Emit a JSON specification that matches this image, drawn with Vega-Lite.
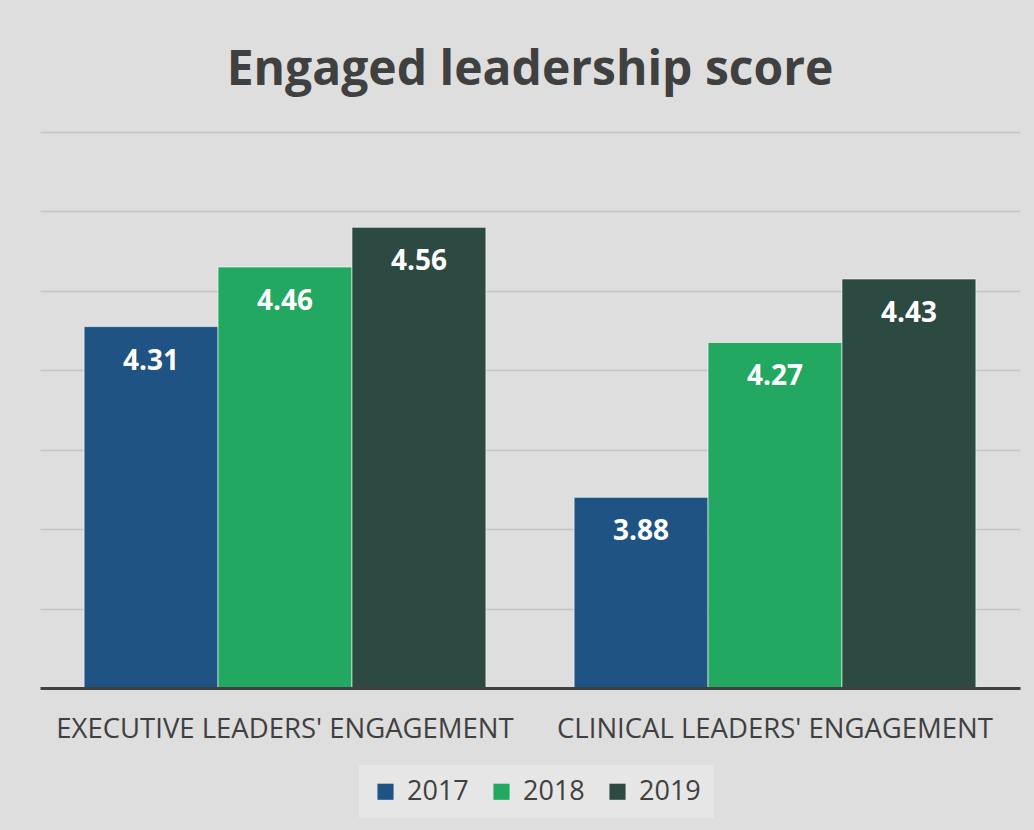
{
  "$schema": "https://vega.github.io/schema/vega-lite/v6.json",
  "autosize": {"type": "none"},
  "width": 980,
  "height": 556,
  "padding": {"left": 40, "top": 132, "right": 14, "bottom": 142},
  "background": "#dedede",
  "title": {
    "text": "Engaged leadership score",
    "font": "Open Sans",
    "fontSize": 48,
    "fontWeight": "bold",
    "color": "#404040",
    "offset": 37,
    "anchor": "middle"
  },
  "data": {
    "values": [
      {"category": "EXECUTIVE LEADERS' ENGAGEMENT", "year": "2017", "value": 4.31},
      {"category": "EXECUTIVE LEADERS' ENGAGEMENT", "year": "2018", "value": 4.46},
      {"category": "EXECUTIVE LEADERS' ENGAGEMENT", "year": "2019", "value": 4.56},
      {"category": "CLINICAL LEADERS' ENGAGEMENT", "year": "2017", "value": 3.88},
      {"category": "CLINICAL LEADERS' ENGAGEMENT", "year": "2018", "value": 4.27},
      {"category": "CLINICAL LEADERS' ENGAGEMENT", "year": "2019", "value": 4.43}
    ]
  },
  "encoding": {
    "x": {
      "field": "category",
      "type": "nominal",
      "sort": null,
      "scale": {"paddingInner": 0.18, "paddingOuter": 0.09},
      "axis": {
        "title": null,
        "labelAngle": 0,
        "labelFont": "Open Sans",
        "labelFontSize": 27.5,
        "labelLimit": 700,
        "labelColor": "#404040",
        "labelPadding": 27,
        "ticks": false,
        "domainColor": "#404040",
        "domainWidth": 3,
        "zindex": 1
      }
    },
    "xOffset": {"field": "year", "type": "nominal"},
    "y": {
      "field": "value",
      "type": "quantitative",
      "scale": {"domain": [3.4, 4.8], "zero": false, "clamp": true},
      "axis": {
        "title": null,
        "labels": false,
        "ticks": false,
        "domain": false,
        "values": [3.6, 3.8, 4.0, 4.2, 4.4, 4.6, 4.8],
        "grid": true,
        "gridColor": "#c4c4c4",
        "gridWidth": 1.5
      }
    }
  },
  "layer": [
    {
      "mark": {"type": "bar", "clip": true, "stroke": "#ffffff", "strokeOpacity": 0.6, "strokeWidth": 1},
      "encoding": {
        "color": {
          "field": "year",
          "type": "nominal",
          "scale": {"domain": ["2017", "2018", "2019"], "range": ["#1f5384", "#22a860", "#2d4a42"]},
          "legend": {
            "title": null,
            "orient": "none",
            "legendX": 319,
            "legendY": 633,
            "padding": 13,
            "fillColor": "#e6e6e6",
            "direction": "horizontal",
            "symbolType": "square",
            "symbolSize": 260,
            "symbolStrokeWidth": 0,
            "labelFont": "Open Sans",
            "labelFontSize": 27,
            "labelColor": "#404040",
            "labelOffset": 8,
            "columnPadding": 19
          }
        }
      }
    },
    {
      "mark": {"type": "text", "baseline": "middle", "dy": 35, "font": "Open Sans", "fontSize": 28, "fontWeight": "bold", "color": "#ffffff"},
      "encoding": {
        "text": {"field": "value", "type": "quantitative", "format": ".2f"}
      }
    }
  ],
  "config": {"view": {"stroke": null}}
}
